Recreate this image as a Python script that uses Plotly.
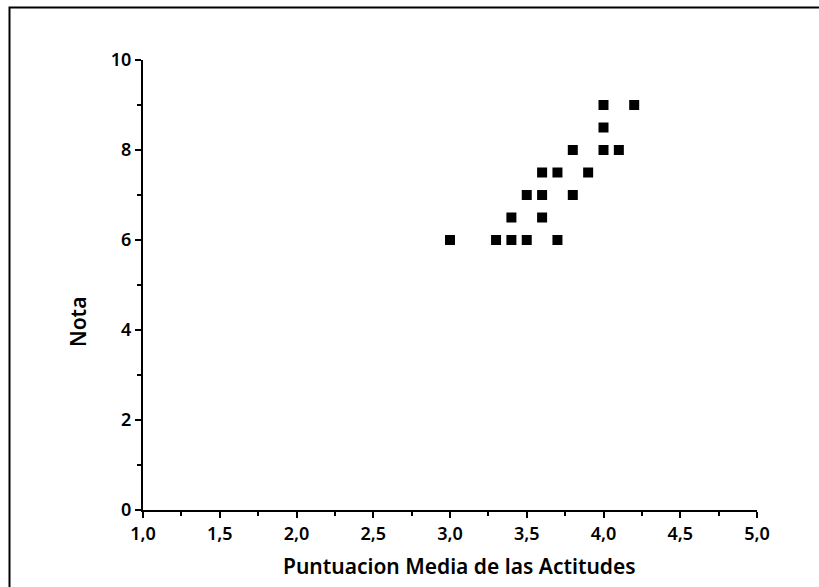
import plotly.graph_objects as go

x_vals = [4.0, 4.2, 4.0, 3.8, 4.0, 4.1, 3.6, 3.7, 3.9, 3.5, 3.6, 3.8, 3.4, 3.6, 3.0, 3.3, 3.4, 3.5, 3.7]
y_vals = [9.0, 9.0, 8.5, 8.0, 8.0, 8.0, 7.5, 7.5, 7.5, 7.0, 7.0, 7.0, 6.5, 6.5, 6.0, 6.0, 6.0, 6.0, 6.0]

x_title = "Puntuacion Media de las Actitudes"
y_title = "Nota"

W, H = 819, 587
L, R, T, B = 143, 62, 60, 77
pw, ph = W - L - R, H - T - B

fig = go.Figure()
fig.add_trace(go.Scatter(
    x=x_vals, y=y_vals, mode="markers",
    marker=dict(symbol="square", size=10, color="black"),
    showlegend=False, cliponaxis=False,
))

font_family = "Noto Sans"
title_font = dict(size=21, family=font_family, weight=600, color="black")
fig.update_layout(
    width=W, height=H,
    margin=dict(l=L, r=R, t=T, b=B),
    paper_bgcolor="white", plot_bgcolor="white",
    separators=",.",
    font=dict(family=font_family, color="black"),
    xaxis=dict(
        range=[1, 5], dtick=0.5, tick0=1, tickformat=".1f",
        showgrid=False, zeroline=False,
        showline=True, linecolor="black", linewidth=2,
        ticks="outside", ticklen=6, tickwidth=2, tickcolor="black",
        minor=dict(dtick=0.25, ticks="outside", ticklen=4, tickwidth=2, tickcolor="black", showgrid=False),
        tickfont=dict(size=18, family=font_family, weight=600),
    ),
    yaxis=dict(
        range=[0, 10], dtick=2, tick0=0,
        showgrid=False, zeroline=False,
        showline=True, linecolor="black", linewidth=2,
        ticks="outside", ticklen=6, tickwidth=2, tickcolor="black",
        minor=dict(dtick=1, ticks="outside", ticklen=4, tickwidth=2, tickcolor="black", showgrid=False),
        tickfont=dict(size=18, family=font_family, weight=600),
    ),
    annotations=[
        dict(text=x_title, xref="paper", yref="paper",
             x=(459 - L) / pw, y=(T + ph - 566) / ph,
             xanchor="center", yanchor="middle", showarrow=False, font=title_font),
        dict(text=y_title, xref="paper", yref="paper",
             x=(78 - L) / pw, y=(T + ph - 322) / ph, textangle=-90,
             xanchor="center", yanchor="middle", showarrow=False, font=title_font),
    ],
    shapes=[dict(
        type="rect", xref="paper", yref="paper",
        x0=(9.5 - L) / pw, x1=1.3,
        y0=-0.3, y1=(T + ph - 7.5) / ph,
        line=dict(color="black", width=2), fillcolor="rgba(0,0,0,0)", layer="below",
    )],
)

fig.write_html("out.html")
